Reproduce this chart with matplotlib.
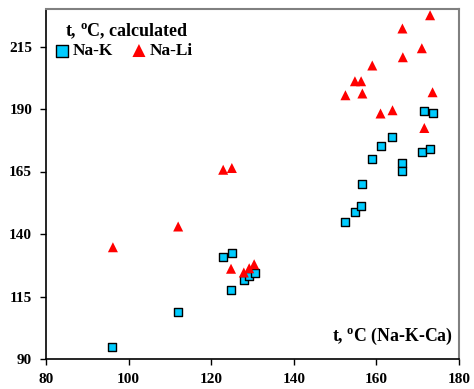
import matplotlib
matplotlib.use("Agg")
import matplotlib.pyplot as plt

plt.rcParams['font.family'] = ['Liberation Serif', 'DejaVu Serif']
plt.rcParams['font.weight'] = 'bold'
plt.rcParams['mathtext.fontset'] = 'custom'
plt.rcParams['mathtext.rm'] = 'Liberation Serif:bold'
plt.rcParams['mathtext.bf'] = 'Liberation Serif:bold'

nak_x = [96.1, 112.0, 124.8, 127.9, 129.2, 130.6, 122.9, 125.0, 152.4, 154.9, 156.2,
         156.6, 158.9, 161.0, 163.8, 166.3, 166.3, 171.0, 173.0, 171.6, 173.6]
nak_y = [94.8, 109.0, 117.5, 121.6, 123.3, 124.6, 131.0, 132.3, 145.0, 148.9, 151.3,
         160.0, 170.2, 175.1, 178.7, 168.4, 165.3, 172.8, 174.2, 189.1, 188.4]

nali_x = [173.0, 166.3, 171.0, 166.4, 159.0, 154.8, 156.3, 152.5, 156.6, 173.6, 161.0,
          163.9, 171.6, 122.9, 125.0, 112.0, 96.2, 124.8, 127.9, 129.2, 130.4]
nali_y = [227.5, 222.2, 214.3, 210.7, 207.4, 201.1, 201.1, 195.5, 196.2, 196.7, 188.2,
          189.5, 182.4, 165.7, 166.4, 143.0, 134.7, 126.1, 124.6, 126.3, 127.9]

xticks = [80, 100, 120, 140, 160, 180]
yticks = [90, 115, 140, 165, 190, 215]

fig = plt.figure(figsize=(4.74, 3.89), dpi=100)
ax = fig.add_axes([46/474, 30/389, 413/474, 350/389])

ax.scatter(nak_x, nak_y, marker='s', s=40, c='#00CCFF', edgecolors='black',
           linewidths=1.0, label='Na-K', zorder=3)
ax.scatter(nali_x, nali_y, marker='^', s=52, c='#FF0000', edgecolors='none',
           label='Na-Li', zorder=4)

ax.set_xlim(80, 180)
ax.set_ylim(90, 230)
ax.set_xticks(xticks)
ax.set_yticks(yticks)
ax.tick_params(axis='both', direction='out', length=4, width=1, labelsize=11, pad=6)
for lab in ax.get_xticklabels() + ax.get_yticklabels():
    lab.set_fontweight('bold')

for s in ['left', 'bottom']:
    ax.spines[s].set_color('black')
    ax.spines[s].set_linewidth(1.2)
for s in ['top', 'right']:
    ax.spines[s].set_color('#808080')
    ax.spines[s].set_linewidth(1.5)

ax.text(0.046, 0.937, r't, $^{\mathrm{o}}$C, calculated', transform=ax.transAxes,
        ha='left', va='center', fontsize=13, fontweight='bold')

leg = ax.legend(loc='center left', ncol=2, bbox_to_anchor=(0.018, 0.88),
                frameon=False, fontsize=12.5, handlelength=1.0, handletextpad=0.1,
                columnspacing=1.0, borderaxespad=0.0, borderpad=0.0, markerscale=1.3)
for t in leg.get_texts():
    t.set_fontweight('bold')

ax.text(0.985, 0.035, r't, $^{\mathrm{o}}$C (Na-K-Ca)', transform=ax.transAxes,
        ha='right', va='bottom', fontsize=12.8, fontweight='bold')

fig.savefig('out.png', dpi=100)
